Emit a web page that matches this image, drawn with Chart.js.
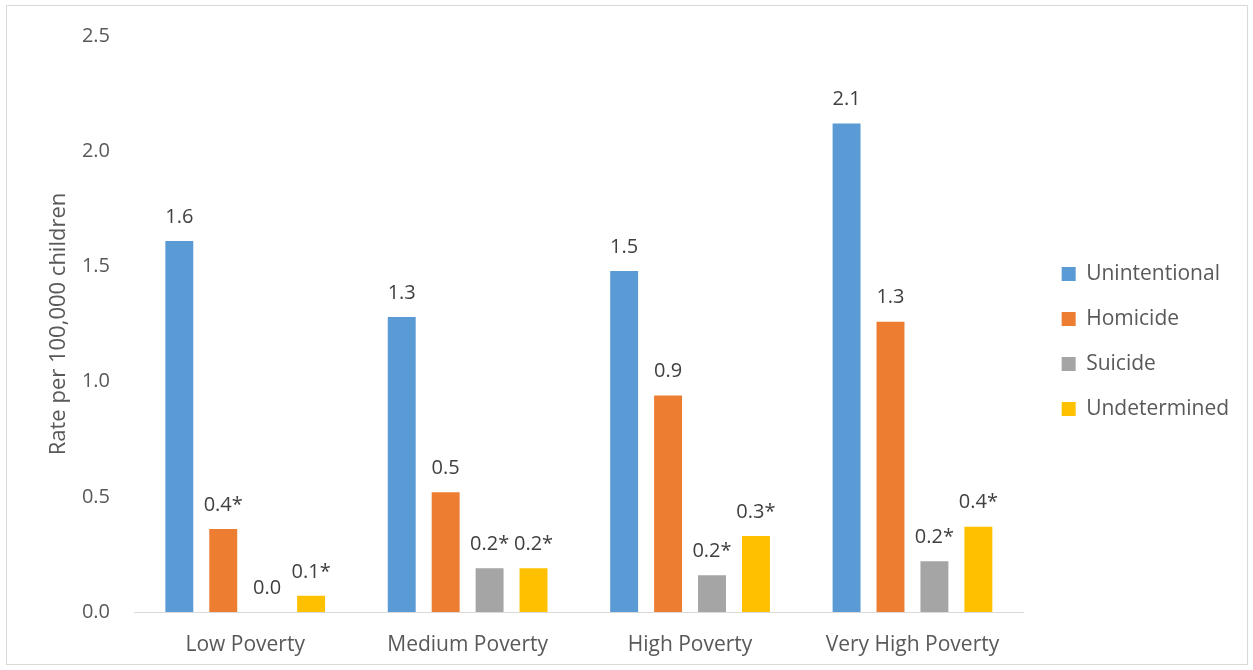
<!DOCTYPE html>
<html>
<head>
<meta charset="utf-8">
<script src="https://cdn.jsdelivr.net/npm/chart.js@4"></script>
<style>
  html, body { margin: 0; padding: 0; background: #fff; }
  #wrap { width: 1253px; height: 670px; }
</style>
</head>
<body>
<div id="wrap"><canvas id="chart" width="1253" height="670"></canvas></div>
<script>
// Child death rates by poverty level

const categories = ['Low Poverty', 'Medium Poverty', 'High Poverty', 'Very High Poverty'];
const seriesNames = ['Unintentional', 'Homicide', 'Suicide', 'Undetermined'];
const seriesColors = ['#5B9BD5', '#ED7D31', '#A5A5A5', '#FFC000'];

const unintentional = [1.61, 1.28, 1.48, 2.12];
const homicide = [0.36, 0.52, 0.94, 1.26];
const suicide = [0.0, 0.19, 0.16, 0.22];
const undetermined = [0.07, 0.19, 0.33, 0.37];

// printed labels (asterisk marks unstable rates)
const unintentionalLabels = ['1.6', '1.3', '1.5', '2.1'];
const homicideLabels = ['0.4*', '0.5', '0.9', '1.3'];
const suicideLabels = ['0.0', '0.2*', '0.2*', '0.2*'];
const undeterminedLabels = ['0.1*', '0.2*', '0.3*', '0.4*'];

const yTicks = [0, 0.5, 1.0, 1.5, 2.0, 2.5];

const FONT = '"Open Sans", sans-serif';
const TEXT = '#595959';

const seriesValues = [unintentional, homicide, suicide, undetermined];
const seriesLabels = [unintentionalLabels, homicideLabels, suicideLabels, undeterminedLabels];

const valueLabels = {
    id: 'valueLabels',
    afterDatasetsDraw(chart) {
        const ctx = chart.ctx;
        ctx.save();
        ctx.font = '20px ' + FONT;
        ctx.fillStyle = '#404040';
        ctx.textAlign = 'center';
        ctx.textBaseline = 'middle';
        chart.data.datasets.forEach((ds, i) => {
            const meta = chart.getDatasetMeta(i);
            meta.data.forEach((bar, j) => {
                ctx.fillText(seriesLabels[i][j], bar.x, bar.y - 24);
            });
        });
        ctx.restore();
    }
};

const frame = {
    id: 'frame',
    beforeDraw(chart) {
        const ctx = chart.ctx;
        ctx.save();
        ctx.fillStyle = '#fff';
        ctx.fillRect(0, 0, chart.width, chart.height);
        ctx.strokeStyle = '#d9d9d9';
        ctx.lineWidth = 1;
        ctx.strokeRect(6.5, 5.5, chart.width - 12, chart.height - 11);
        ctx.restore();
    }
};

new Chart(document.getElementById('chart').getContext('2d'), {
    type: 'bar',
    data: {
        labels: categories,
        datasets: seriesNames.map((name, i) => ({
            label: name,
            data: seriesValues[i],
            backgroundColor: seriesColors[i],
            borderWidth: 0,
            categoryPercentage: 0.79,
            barPercentage: 0.636
        }))
    },
    options: {
        responsive: false,
        animation: false,
        layout: {
            padding: { left: 46, right: 17, top: 25, bottom: 12 }
        },
        plugins: {
            legend: {
                position: 'right',
                labels: {
                    boxWidth: 14,
                    boxHeight: 14,
                    padding: 24,
                    color: TEXT,
                    font: { family: FONT, size: 21 }
                }
            },
            tooltip: { enabled: false }
        },
        scales: {
            x: {
                grid: { display: false, drawTicks: false },
                border: { display: true, color: '#d9d9d9', width: 1 },
                ticks: {
                    color: TEXT,
                    padding: 20,
                    font: { family: FONT, size: 21 }
                },
                afterFit: function(axis) {
                    axis.height = 46;
                }
            },
            y: {
                min: 0,
                max: 2.5,
                afterBuildTicks: function(axis) {
                    axis.ticks = yTicks.map(v => ({ value: v }));
                },
                afterFit: function(axis) {
                    axis.width = 88;
                },
                grid: { display: false, drawTicks: false },
                border: { display: false },
                ticks: {
                    color: TEXT,
                    padding: 24,
                    font: { family: FONT, size: 20 },
                    callback: function(value) {
                        return Number(value).toFixed(1);
                    }
                },
                title: {
                    display: true,
                    text: 'Rate per 100,000 children',
                    color: TEXT,
                    padding: { top: 0, bottom: 10 },
                    font: { family: FONT, size: 22 }
                }
            },
            // empty spacer between plot and legend
            gap: {
                type: 'linear',
                position: 'right',
                display: true,
                grid: { display: false, drawTicks: false },
                border: { display: false },
                ticks: { display: false },
                afterFit: function(axis) {
                    axis.width = 14;
                }
            }
        }
    },
    plugins: [frame, valueLabels]
});
</script>
</body>
</html>
